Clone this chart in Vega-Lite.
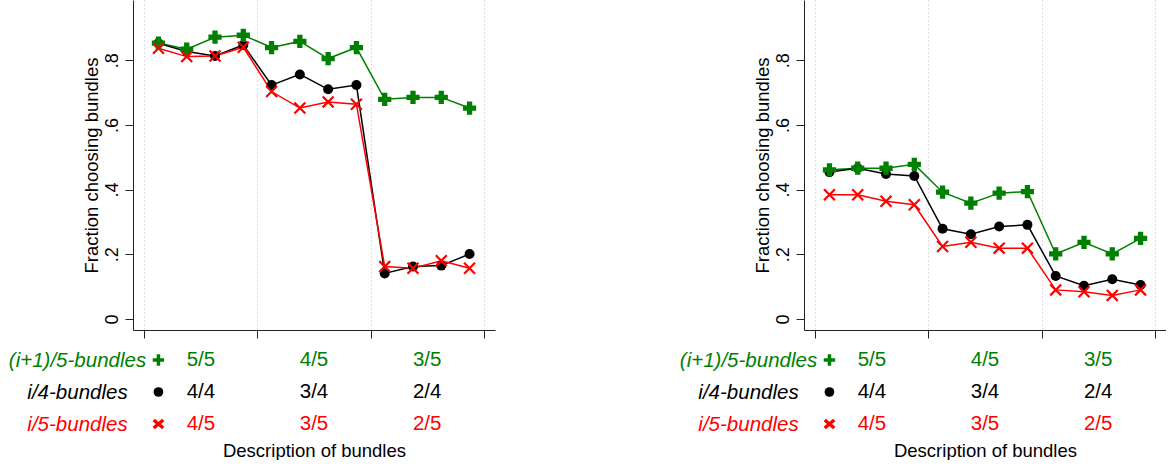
{
  "$schema": "https://vega.github.io/schema/vega-lite/v6.json",
  "background": "white",
  "padding": {"left": 8, "top": 0, "right": 0, "bottom": 0},
  "config": {"view": {"stroke": null}, "font": "Liberation Sans"},
  "datasets": {
    "pts": [
      {"panel": "left", "series": "(i+1)/5-bundles", "item": 1, "value": 0.853, "desc": "5/5"},
      {"panel": "left", "series": "(i+1)/5-bundles", "item": 2, "value": 0.834, "desc": "5/5"},
      {"panel": "left", "series": "(i+1)/5-bundles", "item": 3, "value": 0.871, "desc": "5/5"},
      {"panel": "left", "series": "(i+1)/5-bundles", "item": 4, "value": 0.877, "desc": "5/5"},
      {"panel": "left", "series": "(i+1)/5-bundles", "item": 5, "value": 0.839, "desc": "4/5"},
      {"panel": "left", "series": "(i+1)/5-bundles", "item": 6, "value": 0.858, "desc": "4/5"},
      {"panel": "left", "series": "(i+1)/5-bundles", "item": 7, "value": 0.805, "desc": "4/5"},
      {"panel": "left", "series": "(i+1)/5-bundles", "item": 8, "value": 0.839, "desc": "4/5"},
      {"panel": "left", "series": "(i+1)/5-bundles", "item": 9, "value": 0.679, "desc": "3/5"},
      {"panel": "left", "series": "(i+1)/5-bundles", "item": 10, "value": 0.685, "desc": "3/5"},
      {"panel": "left", "series": "(i+1)/5-bundles", "item": 11, "value": 0.685, "desc": "3/5"},
      {"panel": "left", "series": "(i+1)/5-bundles", "item": 12, "value": 0.652, "desc": "3/5"},
      {"panel": "left", "series": "i/4-bundles", "item": 1, "value": 0.852, "desc": "4/4"},
      {"panel": "left", "series": "i/4-bundles", "item": 2, "value": 0.827, "desc": "4/4"},
      {"panel": "left", "series": "i/4-bundles", "item": 3, "value": 0.813, "desc": "4/4"},
      {"panel": "left", "series": "i/4-bundles", "item": 4, "value": 0.847, "desc": "4/4"},
      {"panel": "left", "series": "i/4-bundles", "item": 5, "value": 0.723, "desc": "3/4"},
      {"panel": "left", "series": "i/4-bundles", "item": 6, "value": 0.756, "desc": "3/4"},
      {"panel": "left", "series": "i/4-bundles", "item": 7, "value": 0.710, "desc": "3/4"},
      {"panel": "left", "series": "i/4-bundles", "item": 8, "value": 0.723, "desc": "3/4"},
      {"panel": "left", "series": "i/4-bundles", "item": 9, "value": 0.141, "desc": "2/4"},
      {"panel": "left", "series": "i/4-bundles", "item": 10, "value": 0.162, "desc": "2/4"},
      {"panel": "left", "series": "i/4-bundles", "item": 11, "value": 0.165, "desc": "2/4"},
      {"panel": "left", "series": "i/4-bundles", "item": 12, "value": 0.201, "desc": "2/4"},
      {"panel": "left", "series": "i/5-bundles", "item": 1, "value": 0.837, "desc": "4/5"},
      {"panel": "left", "series": "i/5-bundles", "item": 2, "value": 0.811, "desc": "4/5"},
      {"panel": "left", "series": "i/5-bundles", "item": 3, "value": 0.813, "desc": "4/5"},
      {"panel": "left", "series": "i/5-bundles", "item": 4, "value": 0.840, "desc": "4/5"},
      {"panel": "left", "series": "i/5-bundles", "item": 5, "value": 0.703, "desc": "3/5"},
      {"panel": "left", "series": "i/5-bundles", "item": 6, "value": 0.652, "desc": "3/5"},
      {"panel": "left", "series": "i/5-bundles", "item": 7, "value": 0.671, "desc": "3/5"},
      {"panel": "left", "series": "i/5-bundles", "item": 8, "value": 0.664, "desc": "3/5"},
      {"panel": "left", "series": "i/5-bundles", "item": 9, "value": 0.162, "desc": "2/5"},
      {"panel": "left", "series": "i/5-bundles", "item": 10, "value": 0.157, "desc": "2/5"},
      {"panel": "left", "series": "i/5-bundles", "item": 11, "value": 0.180, "desc": "2/5"},
      {"panel": "left", "series": "i/5-bundles", "item": 12, "value": 0.157, "desc": "2/5"},
      {"panel": "right", "series": "(i+1)/5-bundles", "item": 1, "value": 0.461, "desc": "5/5"},
      {"panel": "right", "series": "(i+1)/5-bundles", "item": 2, "value": 0.466, "desc": "5/5"},
      {"panel": "right", "series": "(i+1)/5-bundles", "item": 3, "value": 0.466, "desc": "5/5"},
      {"panel": "right", "series": "(i+1)/5-bundles", "item": 4, "value": 0.478, "desc": "5/5"},
      {"panel": "right", "series": "(i+1)/5-bundles", "item": 5, "value": 0.392, "desc": "4/5"},
      {"panel": "right", "series": "(i+1)/5-bundles", "item": 6, "value": 0.358, "desc": "4/5"},
      {"panel": "right", "series": "(i+1)/5-bundles", "item": 7, "value": 0.389, "desc": "4/5"},
      {"panel": "right", "series": "(i+1)/5-bundles", "item": 8, "value": 0.394, "desc": "4/5"},
      {"panel": "right", "series": "(i+1)/5-bundles", "item": 9, "value": 0.201, "desc": "3/5"},
      {"panel": "right", "series": "(i+1)/5-bundles", "item": 10, "value": 0.237, "desc": "3/5"},
      {"panel": "right", "series": "(i+1)/5-bundles", "item": 11, "value": 0.201, "desc": "3/5"},
      {"panel": "right", "series": "(i+1)/5-bundles", "item": 12, "value": 0.249, "desc": "3/5"},
      {"panel": "right", "series": "i/4-bundles", "item": 1, "value": 0.454, "desc": "4/4"},
      {"panel": "right", "series": "i/4-bundles", "item": 2, "value": 0.466, "desc": "4/4"},
      {"panel": "right", "series": "i/4-bundles", "item": 3, "value": 0.448, "desc": "4/4"},
      {"panel": "right", "series": "i/4-bundles", "item": 4, "value": 0.442, "desc": "4/4"},
      {"panel": "right", "series": "i/4-bundles", "item": 5, "value": 0.279, "desc": "3/4"},
      {"panel": "right", "series": "i/4-bundles", "item": 6, "value": 0.262, "desc": "3/4"},
      {"panel": "right", "series": "i/4-bundles", "item": 7, "value": 0.286, "desc": "3/4"},
      {"panel": "right", "series": "i/4-bundles", "item": 8, "value": 0.291, "desc": "3/4"},
      {"panel": "right", "series": "i/4-bundles", "item": 9, "value": 0.133, "desc": "2/4"},
      {"panel": "right", "series": "i/4-bundles", "item": 10, "value": 0.103, "desc": "2/4"},
      {"panel": "right", "series": "i/4-bundles", "item": 11, "value": 0.123, "desc": "2/4"},
      {"panel": "right", "series": "i/4-bundles", "item": 12, "value": 0.105, "desc": "2/4"},
      {"panel": "right", "series": "i/5-bundles", "item": 1, "value": 0.384, "desc": "4/5"},
      {"panel": "right", "series": "i/5-bundles", "item": 2, "value": 0.384, "desc": "4/5"},
      {"panel": "right", "series": "i/5-bundles", "item": 3, "value": 0.364, "desc": "4/5"},
      {"panel": "right", "series": "i/5-bundles", "item": 4, "value": 0.353, "desc": "4/5"},
      {"panel": "right", "series": "i/5-bundles", "item": 5, "value": 0.224, "desc": "3/5"},
      {"panel": "right", "series": "i/5-bundles", "item": 6, "value": 0.237, "desc": "3/5"},
      {"panel": "right", "series": "i/5-bundles", "item": 7, "value": 0.219, "desc": "3/5"},
      {"panel": "right", "series": "i/5-bundles", "item": 8, "value": 0.219, "desc": "3/5"},
      {"panel": "right", "series": "i/5-bundles", "item": 9, "value": 0.090, "desc": "2/5"},
      {"panel": "right", "series": "i/5-bundles", "item": 10, "value": 0.084, "desc": "2/5"},
      {"panel": "right", "series": "i/5-bundles", "item": 11, "value": 0.073, "desc": "2/5"},
      {"panel": "right", "series": "i/5-bundles", "item": 12, "value": 0.090, "desc": "2/5"}
    ]
  },
  "spacing": 184,
  "hconcat": [
    {
      "spacing": 5,
      "vconcat": [
        {
          "width": 362, "height": 330,
          "data": {"name": "pts"},
          "transform": [{"filter": "datum.panel == 'left'"}],
          "encoding": {
            "x": {"field": "item", "type": "quantitative", "scale": {"domain": [0.1, 12.9], "nice": false, "zero": false},
              "axis": {"values": [0.5, 4.5, 8.5, 12.5], "labels": false, "title": null, "tickSize": 8, "tickColor": "#222", "domainColor": "#222", "grid": true, "gridDash": [1, 3], "gridColor": "#bdbdbd"}},
            "y": {"field": "value", "type": "quantitative", "scale": {"domain": [-0.034, 0.986], "nice": false, "zero": false},
              "axis": {"values": [0, 0.2, 0.4, 0.6, 0.8], "labelExpr": "datum.value == 0 ? '0' : replace(format(datum.value, '.1f'), '0.', '.')", "labelAngle": -90, "labelAlign": "center", "labelBaseline": "bottom", "labelFontSize": 18, "labelColor": "black", "labelPadding": 4, "tickSize": 8, "tickColor": "#222", "domainColor": "#222", "grid": false, "title": "Fraction choosing bundles", "titleFontSize": 18.5, "titleFontWeight": "normal", "titleColor": "black", "titlePadding": 2}}
          },
          "layer": [
            {"mark": {"type": "line", "strokeWidth": 1.5}, "encoding": {"color": {"field": "series", "type": "nominal", "scale": {"domain": ["(i+1)/5-bundles", "i/4-bundles", "i/5-bundles"], "range": ["#008000", "#000000", "#ff0000"]}, "legend": null}}},
            {"transform": [{"filter": "datum.series == 'i/4-bundles'"}], "mark": {"type": "point", "shape": "circle", "filled": true, "color": "#000000", "size": 100, "opacity": 1}},
            {"transform": [{"filter": "datum.series == '(i+1)/5-bundles'"}], "mark": {"type": "point", "shape": "cross", "filled": true, "color": "#008000", "size": 175, "opacity": 1}},
            {"transform": [{"filter": "datum.series == 'i/5-bundles'"}], "mark": {"type": "point", "shape": "M-1,-1L1,1M1,-1L-1,1", "filled": false, "stroke": "#ff0000", "strokeWidth": 2.2, "size": 120, "opacity": 1}}
          ]
        },
        {
          "width": 362, "height": 96,
          "data": {"name": "pts"},
          "transform": [{"filter": "datum.panel == 'left'"}],
          "encoding": {
            "y": {"field": "series", "type": "nominal", "scale": {"domain": ["(i+1)/5-bundles", "i/4-bundles", "i/5-bundles"], "paddingInner": 0, "paddingOuter": 0},
              "axis": {"title": null, "domain": false, "ticks": false, "tickSize": 0, "labelAlign": "center", "labelBaseline": "middle", "labelPadding": 56, "labelFontSize": 20.5, "labelFontStyle": "italic", "labelColor": {"condition": [{"test": "datum.value == '(i+1)/5-bundles'", "value": "#008000"}, {"test": "datum.value == 'i/5-bundles'", "value": "#ff0000"}], "value": "#000000"}}}
          },
          "layer": [
            {"mark": {"type": "text", "fontSize": 20.5},
              "encoding": {
                "x": {"aggregate": "mean", "field": "item", "type": "quantitative", "scale": {"domain": [0.1, 12.9], "nice": false, "zero": false}, "axis": {"title": "Description of bundles", "labels": false, "ticks": false, "domain": false, "grid": false, "titleFontSize": 18.5, "titleFontWeight": "normal", "titleColor": "black", "titlePadding": 1}},
                "text": {"field": "desc"},
                "color": {"field": "series", "type": "nominal", "scale": {"domain": ["(i+1)/5-bundles", "i/4-bundles", "i/5-bundles"], "range": ["#008000", "#000000", "#ff0000"]}, "legend": null}
              }},
            {"transform": [{"filter": "datum.series == '(i+1)/5-bundles'"}], "mark": {"type": "point", "shape": "M-1,0L1,0M0,-1L0,1", "filled": false, "stroke": "#008000", "strokeWidth": 3.5, "size": 130, "opacity": 1},
              "encoding": {"x": {"aggregate": "min", "field": "item", "type": "quantitative", "scale": {"domain": [0.1, 12.9], "nice": false, "zero": false}, "axis": {"title": "Description of bundles", "labels": false, "ticks": false, "domain": false, "grid": false, "titleFontSize": 18.5, "titleFontWeight": "normal", "titleColor": "black", "titlePadding": 1}}}},
            {"transform": [{"filter": "datum.series == 'i/4-bundles'"}], "mark": {"type": "point", "shape": "circle", "filled": true, "color": "#000000", "size": 95, "opacity": 1},
              "encoding": {"x": {"aggregate": "min", "field": "item", "type": "quantitative", "scale": {"domain": [0.1, 12.9], "nice": false, "zero": false}, "axis": {"title": "Description of bundles", "labels": false, "ticks": false, "domain": false, "grid": false, "titleFontSize": 18.5, "titleFontWeight": "normal", "titleColor": "black", "titlePadding": 1}}}},
            {"transform": [{"filter": "datum.series == 'i/5-bundles'"}], "mark": {"type": "point", "shape": "M-1,-0.85L1,0.85M1,-0.85L-1,0.85", "filled": false, "stroke": "#ff0000", "strokeWidth": 3.5, "size": 90, "opacity": 1},
              "encoding": {"x": {"aggregate": "min", "field": "item", "type": "quantitative", "scale": {"domain": [0.1, 12.9], "nice": false, "zero": false}, "axis": {"title": "Description of bundles", "labels": false, "ticks": false, "domain": false, "grid": false, "titleFontSize": 18.5, "titleFontWeight": "normal", "titleColor": "black", "titlePadding": 1}}}}
          ]
        }
      ]
    },
    {
      "spacing": 5,
      "vconcat": [
        {
          "width": 362, "height": 330,
          "data": {"name": "pts"},
          "transform": [{"filter": "datum.panel == 'right'"}],
          "encoding": {
            "x": {"field": "item", "type": "quantitative", "scale": {"domain": [0.1, 12.9], "nice": false, "zero": false},
              "axis": {"values": [0.5, 4.5, 8.5, 12.5], "labels": false, "title": null, "tickSize": 8, "tickColor": "#222", "domainColor": "#222", "grid": true, "gridDash": [1, 3], "gridColor": "#bdbdbd"}},
            "y": {"field": "value", "type": "quantitative", "scale": {"domain": [-0.034, 0.986], "nice": false, "zero": false},
              "axis": {"values": [0, 0.2, 0.4, 0.6, 0.8], "labelExpr": "datum.value == 0 ? '0' : replace(format(datum.value, '.1f'), '0.', '.')", "labelAngle": -90, "labelAlign": "center", "labelBaseline": "bottom", "labelFontSize": 18, "labelColor": "black", "labelPadding": 4, "tickSize": 8, "tickColor": "#222", "domainColor": "#222", "grid": false, "title": "Fraction choosing bundles", "titleFontSize": 18.5, "titleFontWeight": "normal", "titleColor": "black", "titlePadding": 2}}
          },
          "layer": [
            {"mark": {"type": "line", "strokeWidth": 1.5}, "encoding": {"color": {"field": "series", "type": "nominal", "scale": {"domain": ["(i+1)/5-bundles", "i/4-bundles", "i/5-bundles"], "range": ["#008000", "#000000", "#ff0000"]}, "legend": null}}},
            {"transform": [{"filter": "datum.series == 'i/4-bundles'"}], "mark": {"type": "point", "shape": "circle", "filled": true, "color": "#000000", "size": 100, "opacity": 1}},
            {"transform": [{"filter": "datum.series == '(i+1)/5-bundles'"}], "mark": {"type": "point", "shape": "cross", "filled": true, "color": "#008000", "size": 175, "opacity": 1}},
            {"transform": [{"filter": "datum.series == 'i/5-bundles'"}], "mark": {"type": "point", "shape": "M-1,-1L1,1M1,-1L-1,1", "filled": false, "stroke": "#ff0000", "strokeWidth": 2.2, "size": 120, "opacity": 1}}
          ]
        },
        {
          "width": 362, "height": 96,
          "data": {"name": "pts"},
          "transform": [{"filter": "datum.panel == 'right'"}],
          "encoding": {
            "y": {"field": "series", "type": "nominal", "scale": {"domain": ["(i+1)/5-bundles", "i/4-bundles", "i/5-bundles"], "paddingInner": 0, "paddingOuter": 0},
              "axis": {"title": null, "domain": false, "ticks": false, "tickSize": 0, "labelAlign": "center", "labelBaseline": "middle", "labelPadding": 56, "labelFontSize": 20.5, "labelFontStyle": "italic", "labelColor": {"condition": [{"test": "datum.value == '(i+1)/5-bundles'", "value": "#008000"}, {"test": "datum.value == 'i/5-bundles'", "value": "#ff0000"}], "value": "#000000"}}}
          },
          "layer": [
            {"mark": {"type": "text", "fontSize": 20.5},
              "encoding": {
                "x": {"aggregate": "mean", "field": "item", "type": "quantitative", "scale": {"domain": [0.1, 12.9], "nice": false, "zero": false}, "axis": {"title": "Description of bundles", "labels": false, "ticks": false, "domain": false, "grid": false, "titleFontSize": 18.5, "titleFontWeight": "normal", "titleColor": "black", "titlePadding": 1}},
                "text": {"field": "desc"},
                "color": {"field": "series", "type": "nominal", "scale": {"domain": ["(i+1)/5-bundles", "i/4-bundles", "i/5-bundles"], "range": ["#008000", "#000000", "#ff0000"]}, "legend": null}
              }},
            {"transform": [{"filter": "datum.series == '(i+1)/5-bundles'"}], "mark": {"type": "point", "shape": "M-1,0L1,0M0,-1L0,1", "filled": false, "stroke": "#008000", "strokeWidth": 3.5, "size": 130, "opacity": 1},
              "encoding": {"x": {"aggregate": "min", "field": "item", "type": "quantitative", "scale": {"domain": [0.1, 12.9], "nice": false, "zero": false}, "axis": {"title": "Description of bundles", "labels": false, "ticks": false, "domain": false, "grid": false, "titleFontSize": 18.5, "titleFontWeight": "normal", "titleColor": "black", "titlePadding": 1}}}},
            {"transform": [{"filter": "datum.series == 'i/4-bundles'"}], "mark": {"type": "point", "shape": "circle", "filled": true, "color": "#000000", "size": 95, "opacity": 1},
              "encoding": {"x": {"aggregate": "min", "field": "item", "type": "quantitative", "scale": {"domain": [0.1, 12.9], "nice": false, "zero": false}, "axis": {"title": "Description of bundles", "labels": false, "ticks": false, "domain": false, "grid": false, "titleFontSize": 18.5, "titleFontWeight": "normal", "titleColor": "black", "titlePadding": 1}}}},
            {"transform": [{"filter": "datum.series == 'i/5-bundles'"}], "mark": {"type": "point", "shape": "M-1,-0.85L1,0.85M1,-0.85L-1,0.85", "filled": false, "stroke": "#ff0000", "strokeWidth": 3.5, "size": 90, "opacity": 1},
              "encoding": {"x": {"aggregate": "min", "field": "item", "type": "quantitative", "scale": {"domain": [0.1, 12.9], "nice": false, "zero": false}, "axis": {"title": "Description of bundles", "labels": false, "ticks": false, "domain": false, "grid": false, "titleFontSize": 18.5, "titleFontWeight": "normal", "titleColor": "black", "titlePadding": 1}}}}
          ]
        }
      ]
    }
  ]
}
